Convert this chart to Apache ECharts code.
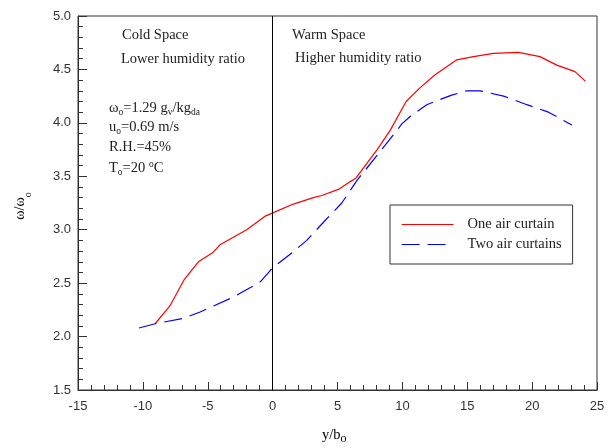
<!DOCTYPE html>
<html>
<head>
<meta charset="utf-8">
<script src="https://cdn.jsdelivr.net/npm/echarts@6/dist/echarts.min.js"></script>
<style>html,body{margin:0;padding:0;background:#fff;}#c{width:611px;height:448px;}</style>
</head>
<body>
<div id="c"></div>
<script>
// Data
const seriesNames = ['One air curtain', 'Two air curtains'];
const oneX = [-9.06, -7.9, -6.83, -5.72, -4.57, -4.05, -3.03, -2.0, -0.53, 0.06, 1.6, 3.14, 3.79, 5.12, 5.97, 6.4, 8.03, 9.06, 10.29, 11.37, 12.52, 14.2, 15.48, 17.0, 18.95, 20.6, 21.9, 23.3, 24.1];
const oneY = [2.12, 2.29, 2.53, 2.70, 2.79, 2.86, 2.93, 3.0, 3.13, 3.16, 3.24, 3.30, 3.32, 3.38, 3.45, 3.48, 3.745, 3.93, 4.20, 4.33, 4.45, 4.59, 4.62, 4.65, 4.66, 4.62, 4.54, 4.48, 4.39];
const twoX = [-10.3, -9.06, -6.88, -5.59, -3.03, -0.97, 0.06, 1.35, 2.63, 3.92, 5.33, 6.49, 8.28, 9.96, 10.6, 11.88, 13.8, 14.97, 16.0, 17.8, 19.6, 21.26, 23.06];
const twoY = [2.08, 2.12, 2.17, 2.23, 2.37, 2.51, 2.65, 2.77, 2.90, 3.07, 3.25, 3.46, 3.73, 3.99, 4.06, 4.17, 4.26, 4.30, 4.30, 4.25, 4.17, 4.10, 3.98];
const xTicks = { min: -15, max: 25, step: 5 };
const yTicks = { min: 1.5, max: 5.0, step: 0.5 };
const dividerX = 0;

const zip = (xs, ys) => xs.map((x, i) => [x, ys[i]]);
const serif = '"Liberation Serif", "DejaVu Serif", serif';
const sans = '"Liberation Sans", Arial, sans-serif';
const txtColor = '#222';
const dash = [18, 8];
const rich = {
  m: { fontFamily: serif, fontSize: 14.5, lineHeight: 18, verticalAlign: 'middle', color: txtColor },
  s: { fontFamily: serif, fontSize: 9.5, lineHeight: 9, verticalAlign: 'bottom', color: txtColor },
  u: { fontFamily: serif, fontSize: 9.5, lineHeight: 9, verticalAlign: 'top', color: txtColor }
};
function label(x, y, text) {
  return { type: 'text', left: x, top: y - 9, silent: true,
    style: { text: text, rich: rich, font: '14.5px ' + serif, fill: txtColor } };
}

const chart = echarts.init(document.getElementById('c'), null, { renderer: 'canvas' });
chart.setOption({
  animation: false,
  backgroundColor: '#fff',
  grid: { left: 78, right: 14, top: 16, bottom: 58, show: true, borderColor: '#333', borderWidth: 1, backgroundColor: 'transparent' },
  xAxis: {
    type: 'value', min: xTicks.min, max: xTicks.max, interval: xTicks.step,
    axisLine: { onZero: false, lineStyle: { color: '#333', width: 1 } },
    axisTick: { inside: true, length: 8, lineStyle: { color: '#333' } },
    minorTick: { show: true, splitNumber: 5, length: 5, lineStyle: { color: '#333' } },
    splitLine: { show: false },
    axisLabel: { margin: 10, fontFamily: sans, fontSize: 13, color: '#333' }
  },
  yAxis: {
    type: 'value', min: yTicks.min, max: yTicks.max, interval: yTicks.step,
    axisLine: { show: true, onZero: false, lineStyle: { color: '#333', width: 1 } },
    axisTick: { show: true, inside: true, length: 9, lineStyle: { color: '#333' } },
    minorTick: { show: true, splitNumber: 5, length: 5, lineStyle: { color: '#333' } },
    splitLine: { show: false },
    axisLabel: { margin: 7, fontFamily: sans, fontSize: 13, color: '#333', formatter: v => v.toFixed(1) }
  },
  legend: {
    orient: 'vertical', left: 390, top: 205,
    padding: [12, 11, 12, 11], itemGap: 5, itemWidth: 52, itemHeight: 14,
    borderColor: '#333', borderWidth: 1, backgroundColor: '#fff',
    textStyle: { fontFamily: serif, fontSize: 14.5, color: txtColor, padding: [0, 0, 0, 9] },
    itemStyle: { opacity: 0 },
    data: [
      { name: seriesNames[0], itemStyle: { opacity: 0 }, lineStyle: { color: '#ff0000', width: 1.2, type: 'solid' } },
      { name: seriesNames[1], itemStyle: { opacity: 0 }, lineStyle: { color: '#0000ff', width: 1.2, type: dash } }
    ]
  },
  series: [
    {
      name: seriesNames[0], type: 'line', data: zip(oneX, oneY), showSymbol: false, symbol: 'none',
      lineStyle: { color: '#ff0000', width: 1.2 }, itemStyle: { color: '#ff0000' },
      markLine: { silent: true, symbol: ['none', 'none'], label: { show: false },
        lineStyle: { color: '#000', type: 'solid', width: 1 }, data: [{ xAxis: dividerX }] }
    },
    {
      name: seriesNames[1], type: 'line', data: zip(twoX, twoY), showSymbol: false, symbol: 'none',
      lineStyle: { color: '#0000ff', width: 1.2, type: dash }, itemStyle: { color: '#0000ff' }
    }
  ],
  graphic: [
    label(122, 37, '{m|Cold Space}'),
    label(121, 61, '{m|Lower humidity ratio}'),
    label(292, 37, '{m|Warm Space}'),
    label(295, 60, '{m|Higher humidity ratio}'),
    label(109, 110, '{m|ω}{s|o}{m|=1.29 g}{s|v}{m|/kg}{s|da}'),
    label(109, 129, '{m|u}{s|o}{m|=0.69 m/s}'),
    label(109, 149, '{m|R.H.=45%}'),
    label(109, 168, '{m|T}{s|o}{m|=20 }{u|o}{m|C}'),
    { type: 'text', left: 322, top: 428, silent: true,
      style: { text: '{m|y/b}{s|o}', rich: {
        m: { fontFamily: serif, fontSize: 14.5, lineHeight: 18, verticalAlign: 'middle', color: txtColor },
        s: { fontFamily: serif, fontSize: 12, lineHeight: 10, verticalAlign: 'bottom', color: txtColor } } } },
    { type: 'text', x: 20, y: 206, rotation: Math.PI / 2, silent: true,
      style: { text: '{m|ω/ω}{s|o}', align: 'center', verticalAlign: 'middle', rich: {
        m: { fontFamily: serif, fontSize: 14, lineHeight: 26, verticalAlign: 'middle', color: '#444' },
        s: { fontFamily: serif, fontSize: 10, lineHeight: 8, verticalAlign: 'bottom', color: '#444' } } } }
  ]
});
</script>
</body>
</html>
